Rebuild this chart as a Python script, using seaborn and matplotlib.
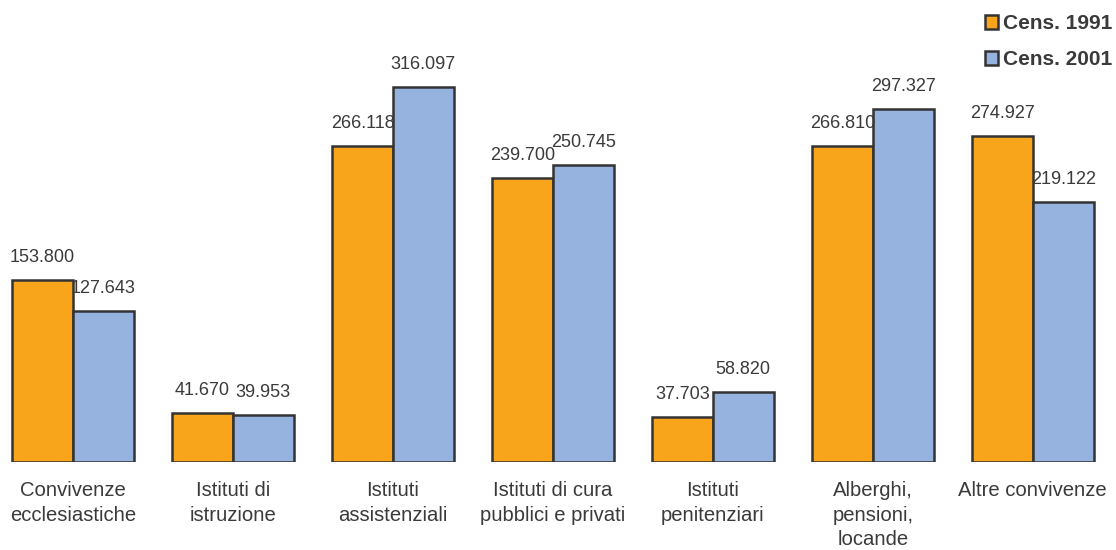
import pandas as pd
import matplotlib
matplotlib.use("Agg")
import matplotlib.pyplot as plt
import seaborn as sns
from matplotlib.patches import Patch

# Data
categories = [
    "Convivenze\necclesiastiche",
    "Istituti di\nistruzione",
    "Istituti\nassistenziali",
    "Istituti di cura\npubblici e privati",
    "Istituti\npenitenziari",
    "Alberghi,\npensioni,\nlocande",
    "Altre convivenze",
]
cens_1991 = [153800, 41670, 266118, 239700, 37703, 266810, 274927]
cens_2001 = [127643, 39953, 316097, 250745, 58820, 297327, 219122]
series = ["Cens. 1991", "Cens. 2001"]
colors = ["#F8A51B", "#95B3DE"]

df = pd.DataFrame({
    "categoria": categories * 2,
    "valore": cens_1991 + cens_2001,
    "serie": [series[0]] * len(categories) + [series[1]] * len(categories),
})

sns.set_style("white")
plt.rcParams["font.family"] = ["Liberation Sans", "DejaVu Sans"]
text_color = "#3a3a3a"

fig = plt.figure(figsize=(11.16, 5.5), dpi=100)
ax = fig.add_axes([0, 0.16, 1, 0.84])

sns.barplot(data=df, x="categoria", y="valore", hue="serie",
            palette=colors, width=0.76, edgecolor="#333333",
            linewidth=1.8, saturation=1, ax=ax, legend=False)


def fmt(v):
    return f"{int(round(v)):,}".replace(",", ".")


for cont in ax.containers:
    ax.bar_label(cont, labels=[fmt(b.get_height()) for b in cont],
                 padding=10, fontsize=13, color=text_color)

ax.set_xlim(-0.456, 6.52)
ax.set_ylim(0, 389500)
ax.set_xlabel("")
ax.set_ylabel("")
ax.set_yticks([])
ax.tick_params(axis="x", length=0, pad=14, labelsize=14.6, labelcolor=text_color)
for lab in ax.get_xticklabels():
    lab.set_linespacing(1.36)
    lab.set_verticalalignment("top")
sns.despine(ax=ax, left=True, bottom=True)

handles = [Patch(facecolor=c, edgecolor="#333333", linewidth=1.8) for c in colors]
leg = fig.legend(handles, series, loc="upper right", bbox_to_anchor=(1.014, 1.008),
                 frameon=False, handlelength=0.65, handleheight=0.65,
                 handletextpad=0.25, labelspacing=0.8,
                 prop={"weight": "bold", "size": 15})
for t in leg.get_texts():
    t.set_color(text_color)

fig.savefig("out.png", dpi=100)
